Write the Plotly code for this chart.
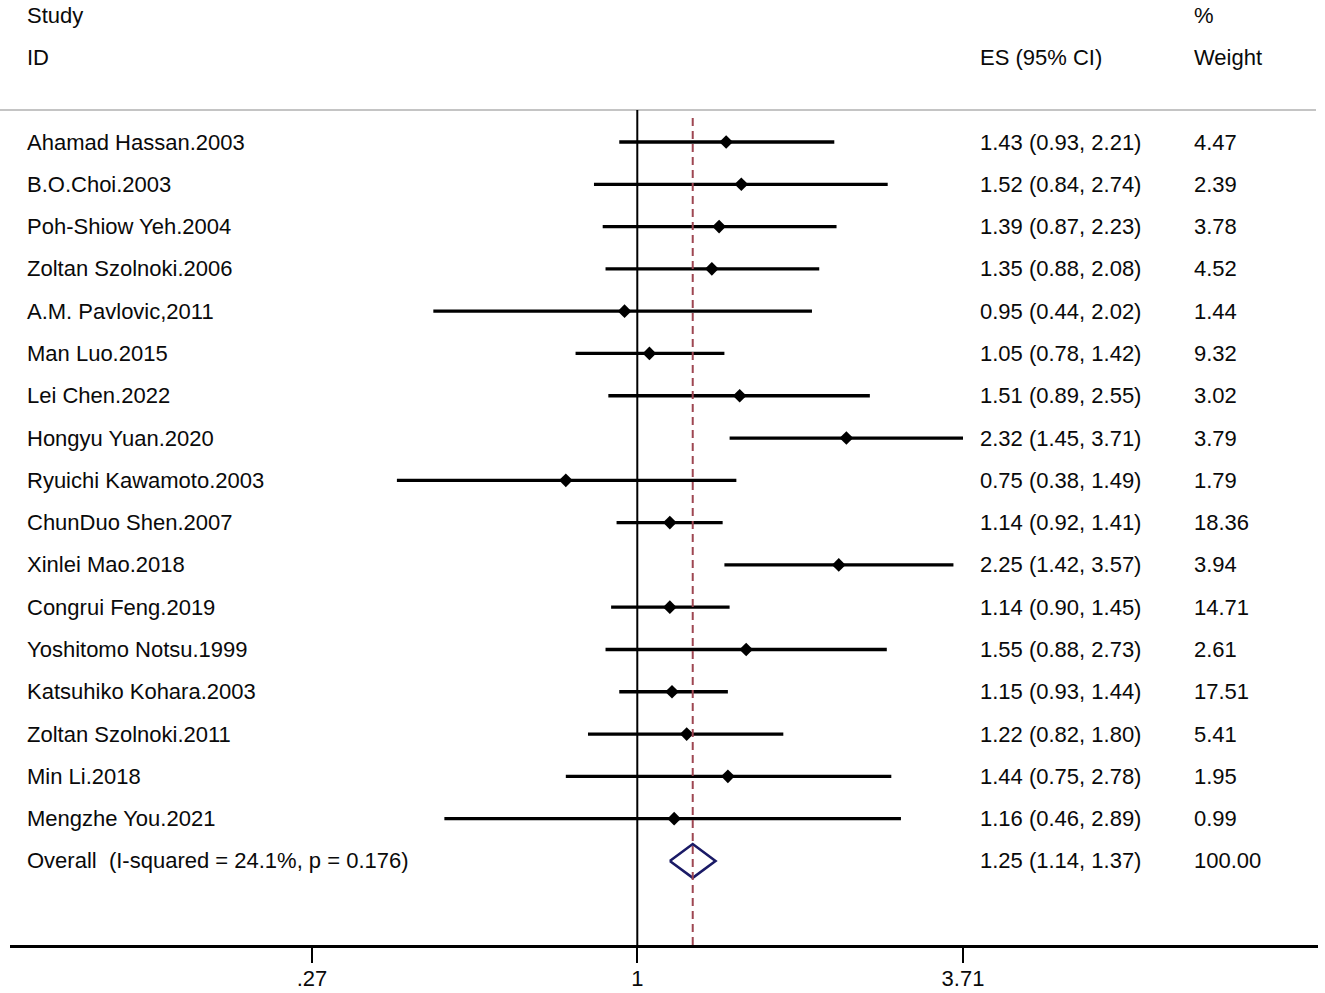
import math
import plotly.graph_objects as go

# ---------------- data ----------------
studies = [
    "Ahamad Hassan.2003", "B.O.Choi.2003", "Poh-Shiow Yeh.2004", "Zoltan Szolnoki.2006",
    "A.M. Pavlovic,2011", "Man Luo.2015", "Lei Chen.2022", "Hongyu Yuan.2020",
    "Ryuichi Kawamoto.2003", "ChunDuo Shen.2007", "Xinlei Mao.2018", "Congrui Feng.2019",
    "Yoshitomo Notsu.1999", "Katsuhiko Kohara.2003", "Zoltan Szolnoki.2011", "Min Li.2018",
    "Mengzhe You.2021",
]
es = [1.43, 1.52, 1.39, 1.35, 0.95, 1.05, 1.51, 2.32, 0.75, 1.14, 2.25, 1.14, 1.55, 1.15, 1.22, 1.44, 1.16]
ci_low = [0.93, 0.84, 0.87, 0.88, 0.44, 0.78, 0.89, 1.45, 0.38, 0.92, 1.42, 0.90, 0.88, 0.93, 0.82, 0.75, 0.46]
ci_high = [2.21, 2.74, 2.23, 2.08, 2.02, 1.42, 2.55, 3.71, 1.49, 1.41, 3.57, 1.45, 2.73, 1.44, 1.80, 2.78, 2.89]
weights = ["4.47", "2.39", "3.78", "4.52", "1.44", "9.32", "3.02", "3.79", "1.79", "18.36",
           "3.94", "14.71", "2.61", "17.51", "5.41", "1.95", "0.99"]

overall_label = "Overall\u00a0\u00a0(I-squared = 24.1%, p = 0.176)"
overall_es = 1.25
overall_low = 1.14
overall_high = 1.37
overall_weight = "100.00"

tick_vals = [0.27, 1, 3.71]
tick_text = [".27", "1", "3.71"]

# ---------------- layout geometry ----------------
W, H = 1325, 993
ML, MR, MT, MB = 10, 7, 0, 48
PW = W - ML - MR
PH = H - MT - MB

PX_LO, PX_HI = 312, 963  # pixel positions of the outer ticks
ppd = (PX_HI - PX_LO) / (math.log10(tick_vals[-1]) - math.log10(tick_vals[0]))
xr0 = math.log10(tick_vals[0]) - (PX_LO - ML) / ppd
xr1 = math.log10(tick_vals[-1]) + (ML + PW - PX_HI) / ppd

ROW0_PX, ROW_H = 142, 42.29


def k_of(px):
    return 1 + (px - ROW0_PX) / ROW_H


def paper_x(px):
    return (px - ML) / PW


y_bottom = k_of(MT + PH)
y_top = k_of(MT)

FONT = dict(family="Liberation Sans, Arial, sans-serif", size=22, color="#0a0a0a")
COL_STUDY, COL_ES, COL_W = 25, 978, 1192

n = len(studies)
rows = list(range(1, n + 1))
overall_row = n + 1

fig = go.Figure()

# CI lines
xs, ys = [], []
for k, lo, hi in zip(rows, ci_low, ci_high):
    xs += [lo, hi, None]
    ys += [k, k, None]
fig.add_trace(go.Scatter(x=xs, y=ys, mode="lines",
                         line=dict(color="black", width=3.3), hoverinfo="skip"))

# point estimates
fig.add_trace(go.Scatter(x=es, y=rows, mode="markers",
                         marker=dict(symbol="diamond", size=10.5, color="black",
                                     line=dict(width=0)), hoverinfo="skip"))

# overall diamond
hd = 0.4
fig.add_trace(go.Scatter(
    x=[overall_low, overall_es, overall_high, overall_es, overall_low],
    y=[overall_row, overall_row - hd, overall_row, overall_row + hd, overall_row],
    mode="lines", line=dict(color="#1a1a66", width=2.6), hoverinfo="skip"))

shapes = [
    # header separator
    dict(type="line", xref="paper", yref="y", x0=paper_x(0), x1=paper_x(1316),
         y0=k_of(110), y1=k_of(110), line=dict(color="#c4c4c4", width=2)),
    # null line
    dict(type="line", xref="x", yref="y", x0=1, x1=1, y0=k_of(110), y1=y_bottom,
         line=dict(color="black", width=2)),
    # overall effect dashed line
    dict(type="line", xref="x", yref="y", x0=overall_es, x1=overall_es,
         y0=k_of(118), y1=y_bottom,
         line=dict(color="#9e4652", width=2, dash="8px,5px")),
]

ann = []


def txt(s, px, k):
    ann.append(dict(x=paper_x(px), xref="paper", y=k, yref="y", text=s,
                    xanchor="left", yanchor="middle", showarrow=False, font=FONT))


txt("Study", COL_STUDY, -2)
txt("ID", COL_STUDY, -1)
txt("%", COL_W, -2)
txt("ES (95% CI)", COL_ES, -1)
txt("Weight", COL_W, -1)

for k, s, e, lo, hi, w in zip(rows, studies, es, ci_low, ci_high, weights):
    txt(s, COL_STUDY, k)
    txt(f"{e:.2f} ({lo:.2f}, {hi:.2f})", COL_ES, k)
    txt(w, COL_W, k)

txt(overall_label, COL_STUDY, overall_row)
txt(f"{overall_es:.2f} ({overall_low:.2f}, {overall_high:.2f})", COL_ES, overall_row)
txt(overall_weight, COL_W, overall_row)

fig.update_layout(
    width=W, height=H,
    margin=dict(l=ML, r=MR, t=MT, b=MB, pad=0),
    paper_bgcolor="white", plot_bgcolor="white",
    showlegend=False, hovermode=False,
    shapes=shapes, annotations=ann,
    xaxis=dict(type="log", range=[xr0, xr1], showgrid=False, zeroline=False,
               showline=True, linecolor="black", linewidth=3,
               ticks="outside", ticklen=15, tickwidth=2, tickcolor="black",
               tickvals=tick_vals, ticktext=tick_text, ticklabelstandoff=-3,
               tickfont=FONT, fixedrange=True),
    yaxis=dict(range=[y_bottom, y_top], visible=False, showgrid=False,
               zeroline=False, fixedrange=True),
)

fig.write_html("out.html", config={"displayModeBar": False},
               post_script="document.body.style.margin='0';")
